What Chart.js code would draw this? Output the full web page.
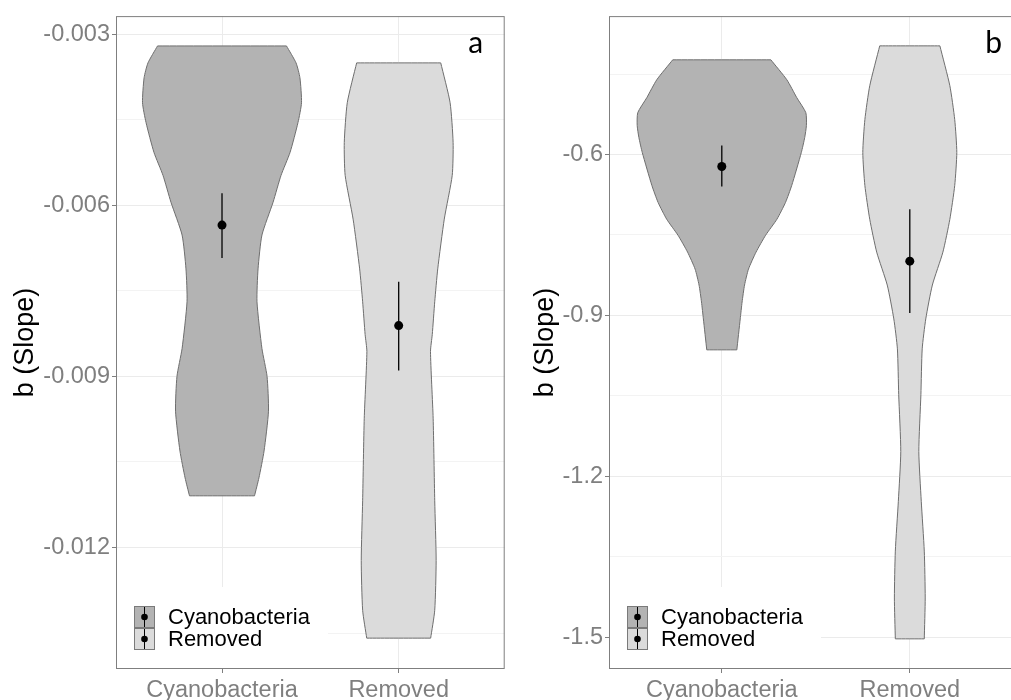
<!DOCTYPE html>
<html>
<head>
<meta charset="utf-8">
<script src="https://cdn.jsdelivr.net/npm/chart.js@4.4.1/dist/chart.umd.min.js"></script>
<style>
  html, body { margin: 0; padding: 0; background: #fff; overflow: hidden; }
  #wrapA { position: absolute; left: 0; top: 0; width: 515px; height: 700px; }
  #wrapB { position: absolute; left: 515px; top: 0; width: 520px; height: 700px; }
</style>
</head>
<body>
<div id="wrapA"><canvas id="chartA" width="515" height="700"></canvas></div>
<div id="wrapB"><canvas id="chartB" width="520" height="700"></canvas></div>
<script>
const categories = ["Cyanobacteria", "Removed"];
const fillColors = ["#b3b3b3", "#dbdbdb"];

// panel a
const aTicks = [-0.012, -0.009, -0.006, -0.003];
const aTickLabels = ["-0.012", "-0.009", "-0.006", "-0.003"];
const aMinorTicks = [-0.0135, -0.0105, -0.0075, -0.0045];
const aRange = [-0.014128, -0.002686];
const aCyanY = [-0.003209, -0.003506, -0.003767, -0.004204, -0.004552, -0.005076, -0.005477, -0.005948, -0.006523, -0.007116, -0.007692, -0.008512, -0.009000, -0.009610, -0.010308, -0.010779, -0.011093];
const aCyanW = [0.365, 0.419, 0.441, 0.45, 0.43, 0.385, 0.334, 0.289, 0.226, 0.204, 0.198, 0.226, 0.255, 0.263, 0.238, 0.209, 0.184];
const aRemY = [-0.003506, -0.004204, -0.004901, -0.005477, -0.006244, -0.007116, -0.007692, -0.008267, -0.008564, -0.009733, -0.011180, -0.012227, -0.013099, -0.013587];
const aRemW = [0.238, 0.291, 0.308, 0.303, 0.258, 0.221, 0.204, 0.190, 0.180, 0.195, 0.204, 0.212, 0.204, 0.181];
const aMeans = [-0.006349, -0.008110];
const aLower = [-0.006924, -0.008895];
const aUpper = [-0.005791, -0.007343];

// panel b
const bTicks = [-1.5, -1.2, -0.9, -0.6];
const bTickLabels = ["-1.5", "-1.2", "-0.9", "-0.6"];
const bMinorTicks = [-1.35, -1.05, -0.75, -0.45];
const bRange = [-1.559, -0.342];
const bCyanY = [-0.4235, -0.4607, -0.4941, -0.5220, -0.5461, -0.5684, -0.5963, -0.6576, -0.6892, -0.7207, -0.7505, -0.7820, -0.8136, -0.8433, -0.8749, -0.9065, -0.9641];
const bCyanW = [0.261, 0.346, 0.399, 0.447, 0.45, 0.441, 0.423, 0.372, 0.339, 0.293, 0.233, 0.182, 0.142, 0.121, 0.108, 0.098, 0.080];
const bRemY = [-0.3975, -0.4718, -0.5350, -0.5963, -0.6576, -0.7207, -0.7820, -0.8433, -0.9065, -0.9622, -1.0477, -1.1536, -1.2465, -1.3393, -1.4266, -1.5028];
const bRemW = [0.160, 0.213, 0.239, 0.250, 0.239, 0.213, 0.176, 0.120, 0.085, 0.066, 0.059, 0.048, 0.061, 0.077, 0.082, 0.077];
const bMeans = [-0.6223, -0.7988];
const bLower = [-0.6594, -0.8954];
const bUpper = [-0.5833, -0.7022];

const FONT = "'Liberation Sans', Arial, sans-serif";

// closed outline; end points doubled so the flat top and bottom keep sharp corners
function violinPoints(center, ys, ws) {
  const left = ys.map((y, i) => ({ x: center - ws[i], y }));
  const right = ys.map((y, i) => ({ x: center + ws[i], y })).reverse();
  const n = left.length;
  return [left[0], ...left, left[n - 1], right[0], ...right, right[n - 1], left[0]];
}

const panelExtras = {
  id: "panelExtras",
  afterDatasetsDraw(chart, args, opts) {
    const ctx = chart.ctx;
    const a = chart.chartArea;
    ctx.save();

    // legend inside panel, bottom left
    ctx.fillStyle = "#fff";
    ctx.fillRect(a.left + 1, a.bottom - 82, 211, 81);
    categories.forEach((name, i) => {
      const kx = a.left + 18;
      const ky = a.bottom - 63 + i * 22;
      ctx.fillStyle = fillColors[i];
      ctx.fillRect(kx, ky, 21, 22);
      ctx.strokeStyle = "#7a7a7a";
      ctx.lineWidth = 1;
      ctx.strokeRect(kx + 0.5, ky + 0.5, 20, 21);
      ctx.strokeStyle = "#000";
      ctx.beginPath();
      ctx.moveTo(kx + 10.5, ky + 1);
      ctx.lineTo(kx + 10.5, ky + 21);
      ctx.stroke();
      ctx.fillStyle = "#000";
      ctx.beginPath();
      ctx.arc(kx + 10.5, ky + 11, 3.3, 0, Math.PI * 2);
      ctx.fill();
      ctx.font = "22px " + FONT;
      ctx.textBaseline = "middle";
      ctx.textAlign = "left";
      ctx.fillText(name, a.left + 52, ky + 12);
    });

    // panel border
    ctx.strokeStyle = "#7f7f7f";
    ctx.lineWidth = 1;
    ctx.strokeRect(a.left + 0.5, a.top + 0.5, a.right - a.left - 1, a.bottom - a.top - 1);

    // panel tag
    ctx.fillStyle = "#000";
    ctx.font = "30px Lato, 'Open Sans', sans-serif";
    ctx.textAlign = "center";
    ctx.textBaseline = "alphabetic";
    ctx.fillText(opts.tag, a.right - 29, a.top + 37);
    ctx.restore();
  }
};

function makePanel(canvasId, p) {
  const datasets = [];
  // mean points
  datasets.push({
    data: p.means.map((m, i) => ({ x: i + 1, y: m })),
    pointRadius: 4.5,
    pointBackgroundColor: "#000",
    pointBorderWidth: 0,
    showLine: false,
    order: 0
  });
  // error bars
  p.means.forEach((m, i) => {
    datasets.push({
      data: [{ x: i + 1, y: p.lower[i] }, { x: i + 1, y: p.upper[i] }],
      showLine: true,
      borderColor: "#000",
      borderWidth: 1.3,
      pointRadius: 0,
      order: 1
    });
  });
  // violins
  p.violins.forEach((v, i) => {
    datasets.push({
      data: violinPoints(i + 1, v.ys, v.ws),
      showLine: true,
      fill: "shape",
      backgroundColor: fillColors[i],
      borderColor: "#6e6e6e",
      borderWidth: 1,
      tension: 0.2,
      pointRadius: 0,
      order: 2
    });
  });

  const allY = [...p.ticks, ...p.minor].sort((u, w) => u - w);

  return new Chart(document.getElementById(canvasId), {
    type: "scatter",
    data: { datasets },
    plugins: [panelExtras],
    options: {
      responsive: false,
      animation: false,
      layout: { padding: { top: 13, right: p.padRight, left: 0, bottom: 0 } },
      plugins: {
        legend: { display: false },
        tooltip: { enabled: false },
        panelExtras: { tag: p.tag }
      },
      scales: {
        x: {
          type: "linear",
          min: 0.4,
          max: 2.6,
          afterBuildTicks: (s) => { s.ticks = [{ value: 1 }, { value: 2 }]; },
          afterFit: (s) => { s.height = 31; },
          border: { display: false },
          grid: { color: "#ebebeb", lineWidth: 1, tickLength: 4, tickColor: "#7f7f7f" },
          ticks: {
            autoSkip: false,
            maxRotation: 0,
            padding: 3,
            color: "#7f7f7f",
            font: { family: FONT, size: 23.5 },
            callback: (v) => categories[v - 1]
          }
        },
        y: {
          type: "linear",
          min: p.range[0],
          max: p.range[1],
          afterBuildTicks: (s) => { s.ticks = allY.map((v) => ({ value: v })); },
          afterFit: (s) => { s.width = p.axisWidth; },
          border: { display: false },
          grid: {
            color: (c) => (p.ticks.includes(c.tick.value) ? "#ebebeb" : "#f3f3f3"),
            lineWidth: 1,
            tickLength: 4,
            tickColor: (c) => (p.ticks.includes(c.tick.value) ? "#7f7f7f" : "rgba(0,0,0,0)")
          },
          ticks: {
            autoSkip: false,
            padding: 2,
            color: "#7f7f7f",
            font: { family: FONT, size: 23.5 },
            callback: (v) => {
              const k = p.ticks.indexOf(v);
              return k >= 0 ? p.tickLabels[k] : "";
            }
          },
          title: {
            display: true,
            text: "b (Slope)",
            color: "#000",
            font: { family: FONT, size: 27 },
            padding: { top: p.titlePad, bottom: 0 }
          }
        }
      }
    }
  });
}

makePanel("chartA", {
  tag: "a",
  ticks: aTicks, tickLabels: aTickLabels, minor: aMinorTicks, range: aRange,
  means: aMeans, lower: aLower, upper: aUpper,
  violins: [{ ys: aCyanY, ws: aCyanW }, { ys: aRemY, ws: aRemW }],
  axisWidth: 116, padRight: 10.3, titlePad: 9
});

makePanel("chartB", {
  tag: "b",
  ticks: bTicks, tickLabels: bTickLabels, minor: bMinorTicks, range: bRange,
  means: bMeans, lower: bLower, upper: bUpper,
  violins: [{ ys: bCyanY, ws: bCyanW }, { ys: bRemY, ws: bRemW }],
  axisWidth: 94, padRight: 12.4, titlePad: 14
});
</script>
</body>
</html>
